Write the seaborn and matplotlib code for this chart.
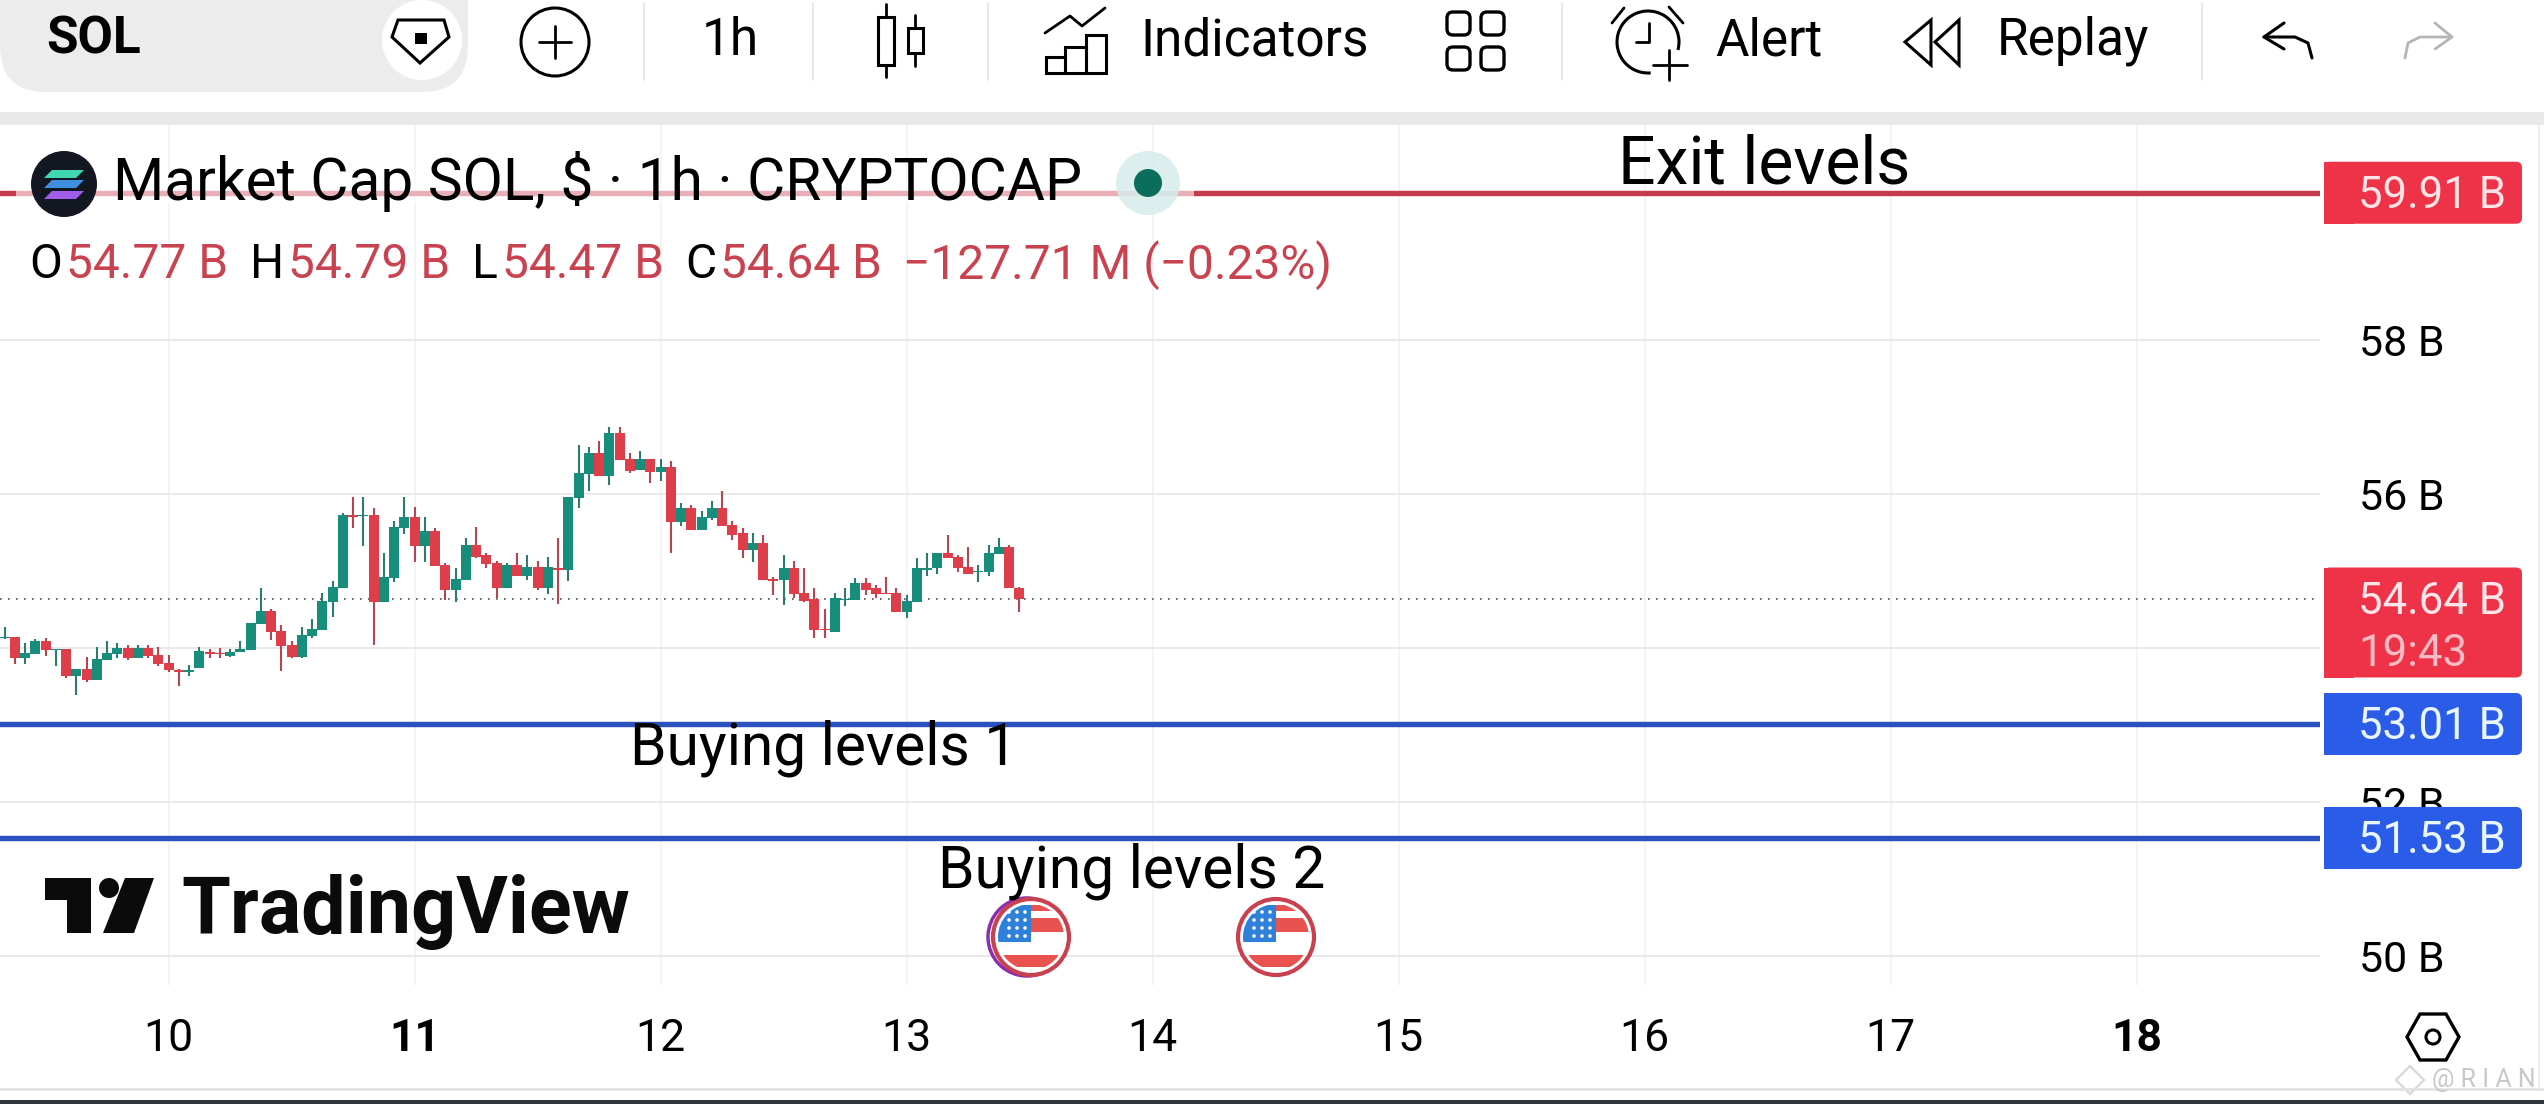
import numpy as np
import pandas as pd
import matplotlib.pyplot as plt
from matplotlib.patches import Arc, Circle, FancyBboxPatch, Polygon, Rectangle
import seaborn as sns

# Candles, one per hour, hour 0 is the start of day 10
HOURS = list(range(-16, 84))
OPEN = [54.13, 54.14, 53.87, 53.92, 54.09, 53.97, 53.99, 53.63, 53.72, 53.58,
        53.84, 53.92, 54.00, 53.87, 54.00, 53.90, 53.80, 53.71, 53.69, 53.74,
        53.95, 53.93, 53.89, 53.95, 53.97, 54.31, 54.48, 54.22, 54.03, 53.88,
        54.15, 54.23, 54.59, 54.77, 55.72, 55.71, 55.73, 54.59, 54.90, 55.55,
        55.70, 55.32, 55.52, 55.08, 54.75, 54.88, 55.34, 55.21, 55.10, 54.77,
        55.07, 54.93, 55.05, 54.77, 55.04, 55.01, 55.94, 56.26, 56.53, 56.23,
        56.79, 56.45, 56.31, 56.45, 56.28, 56.35, 55.63, 55.81, 55.53, 55.68,
        55.81, 55.60, 55.49, 55.27, 55.36, 54.89, 54.88, 55.03, 54.71, 54.64,
        54.24, 54.20, 54.62, 54.62, 54.84, 54.77, 54.71, 54.71, 54.46, 54.59,
        55.01, 55.03, 55.23, 55.18, 55.05, 54.98, 54.98, 55.22, 55.31, 54.77]
HIGH = [54.27, 54.14, 54.06, 54.12, 54.13, 53.98, 53.99, 53.72, 53.88, 54.01,
        54.09, 54.06, 54.04, 54.04, 54.04, 54.01, 53.91, 53.73, 53.78, 54.01,
        53.99, 54.00, 53.99, 54.09, 54.32, 54.77, 54.51, 54.30, 54.09, 54.27,
        54.38, 54.71, 54.87, 55.75, 55.96, 55.96, 55.81, 55.23, 55.65, 55.96,
        55.83, 55.70, 55.55, 55.10, 55.03, 55.42, 55.57, 55.23, 55.13, 55.10,
        55.23, 55.21, 55.13, 55.18, 55.42, 55.96, 56.64, 56.61, 56.69, 56.87,
        56.87, 56.53, 56.56, 56.45, 56.45, 56.43, 55.88, 55.86, 55.78, 55.91,
        56.04, 55.65, 55.55, 55.49, 55.47, 54.92, 55.21, 55.13, 55.03, 54.77,
        54.51, 54.71, 54.77, 54.90, 54.90, 54.82, 54.92, 54.77, 54.69, 55.16,
        55.23, 55.23, 55.47, 55.21, 55.31, 55.08, 55.34, 55.42, 55.34, 54.79]
LOW = [54.12, 53.79, 53.79, 53.92, 53.89, 53.76, 53.61, 53.39, 53.55, 53.58,
       53.84, 53.87, 53.84, 53.87, 53.87, 53.76, 53.68, 53.50, 53.63, 53.74,
       53.87, 53.87, 53.88, 53.95, 53.97, 54.31, 54.10, 53.70, 53.87, 53.87,
       54.13, 54.23, 54.40, 54.77, 55.55, 55.32, 54.04, 54.59, 54.85, 55.48,
       55.11, 55.11, 55.06, 54.62, 54.59, 54.88, 55.16, 55.03, 54.65, 54.77,
       54.93, 54.88, 54.75, 54.70, 54.57, 54.87, 55.81, 56.04, 56.23, 56.12,
       56.44, 56.27, 56.31, 56.14, 56.17, 55.23, 55.58, 55.53, 55.53, 55.66,
       55.58, 55.40, 55.16, 55.11, 54.88, 54.69, 54.56, 54.65, 54.59, 54.13,
       54.13, 54.20, 54.54, 54.62, 54.69, 54.65, 54.70, 54.46, 54.39, 54.59,
       54.93, 54.96, 55.17, 54.98, 54.96, 54.85, 54.93, 55.22, 54.77, 54.47]
CLOSE = [54.14, 53.87, 53.93, 54.09, 53.97, 53.98, 53.63, 53.72, 53.58, 53.86,
         53.93, 54.00, 53.87, 54.00, 53.89, 53.79, 53.71, 53.69, 53.71, 53.96,
         53.92, 53.92, 53.95, 53.98, 54.32, 54.48, 54.20, 54.02, 53.88, 54.17,
         54.24, 54.61, 54.79, 55.73, 55.70, 55.73, 54.59, 54.92, 55.57, 55.70,
         55.32, 55.52, 55.06, 54.75, 54.89, 55.34, 55.18, 55.09, 54.77, 55.08,
         54.93, 55.05, 54.77, 55.05, 55.01, 55.96, 56.27, 56.53, 56.23, 56.79,
         56.44, 56.30, 56.45, 56.28, 56.35, 55.63, 55.81, 55.53, 55.70, 55.81,
         55.58, 55.47, 55.27, 55.36, 54.88, 54.87, 55.03, 54.70, 54.61, 54.23,
         54.23, 54.65, 54.64, 54.84, 54.75, 54.70, 54.70, 54.46, 54.61, 55.03,
         55.04, 55.23, 55.17, 55.03, 54.96, 55.00, 55.23, 55.31, 54.77, 54.64]

DAY_HOURS = [0, 24, 48, 72, 96, 120, 144, 168, 192]
DAY_LABELS = ['10', '11', '12', '13', '14', '15', '16', '17', '18']
BOLD_DAYS = ['11', '18']
PRICE_TICKS = [50, 52, 54, 56, 58]
# the 54 B label sits behind the last price tag in the screenshot
PRICE_LABELS = ['50 B', '52 B', '', '56 B', '58 B']
EXIT_LEVEL = 59.91
BUY_LEVELS = [53.01, 51.53]
LAST_PRICE = 54.64

W, H = 2544, 1104
RED = '#ee3247'
BLUE = '#2a5ce8'
TEXT_RED = '#c8424f'

sns.set_theme(style='white')
plt.rcParams['font.family'] = ['Roboto', 'DejaVu Sans']

candles = pd.DataFrame({'hour': HOURS, 'open': OPEN, 'high': HIGH, 'low': LOW, 'close': CLOSE})
candles['side'] = np.where(candles['close'] >= candles['open'], 'up', 'down')
wicks = candles.melt(id_vars=['hour', 'side'], value_vars=['high', 'low'], value_name='price')
bodies = candles.melt(id_vars=['hour', 'side'], value_vars=['open', 'close'], value_name='price')

fig = plt.figure(figsize=(W / 100, H / 100), dpi=100, facecolor='white')
ax = fig.add_axes([0, 1 - 985 / H, 2320 / W, 860 / H])

# price pane
ax.xaxis.grid(True, color='#f1f1f1', lw=1.1)
ax.yaxis.grid(True, color='#e9e9e9', lw=1.4)
ax.set_axisbelow(True)
sns.lineplot(data=wicks, x='hour', y='price', hue='side', units='hour', estimator=None, sort=False,
             palette={'up': '#2c7a70', 'down': '#b5454f'}, linewidth=1.5, legend=False,
             solid_capstyle='butt', ax=ax)
sns.lineplot(data=bodies, x='hour', y='price', hue='side', units='hour', estimator=None, sort=False,
             palette={'up': '#178d7b', 'down': '#de3e4a'}, linewidth=7.2, legend=False,
             solid_capstyle='butt', ax=ax)

ax.axhline(LAST_PRICE, color='#555555', lw=1.2, ls=(0, (1, 3.8)), zorder=1)
ax.axhline(EXIT_LEVEL, color='#c63a4b', lw=3.9, zorder=3)
for level in BUY_LEVELS:
    ax.axhline(level, color='#2a52be', lw=3.9, zorder=3)

ax.set_xlim(-16.46, 209.9)
ax.set_ylim(49.62, 60.79)
ax.set_xlabel('')
ax.set_ylabel('')
ax.set_xticks(DAY_HOURS, DAY_LABELS)
ax.set_yticks(PRICE_TICKS, PRICE_LABELS)
ax.yaxis.tick_right()
ax.tick_params(axis='x', length=0, pad=24, labelsize=32, colors='black')
ax.tick_params(axis='y', length=0, pad=28, labelsize=31, colors='black')
for tick in ax.get_xticklabels():
    if tick.get_text() in BOLD_DAYS:
        tick.set_fontweight('bold')
sns.despine(ax=ax, left=True, right=True, top=True, bottom=True)

# everything around the chart, in pixels of the picture
ui = fig.add_axes([0, 0, 1, 1], facecolor='none', zorder=5)
ui.set_xlim(0, W)
ui.set_ylim(H, 0)
ui.axis('off')


def label(x, y, s, size, color='black', weight='normal', ha='left'):
    ui.text(x, y + 3, s, fontsize=size, color=color, fontweight=weight, ha=ha, va='center')


def stroke(points, color='black', lw=2.0):
    xs, ys = zip(*points)
    ui.plot(xs, ys, color=color, lw=lw, solid_capstyle='round', solid_joinstyle='round')


def price_px(value):
    return H - ax.transData.transform((0, value))[1]


def price_box(value, color, top, bottom, text, text_color):
    y = price_px(value)
    ui.add_patch(FancyBboxPatch((2330, y - top + 6), 186, top + bottom - 12, boxstyle='round,pad=6',
                                fc=color, ec='none'))
    ui.add_patch(Rectangle((2324, y - top), 30, top + bottom, fc=color, ec='none'))
    label(2358, y, text, 31.5, text_color)


# toolbar
ui.add_patch(Rectangle((0, 112), W, 13, fc='#e9e9e9', ec='none'))
ui.add_patch(FancyBboxPatch((0, -50), 468, 142, boxstyle='round,pad=0,rounding_size=46',
                            fc='#ececec', ec='none'))
ui.add_patch(Circle((422, 40), 40, fc='white', ec='none'))
label(46, 37, 'SOL', 37, weight='bold')
ui.add_patch(Polygon([(398, 20), (444, 20), (449, 37), (420, 63), (392, 37)], fill=False, ec='black', lw=2.2))
ui.add_patch(Rectangle((415, 33), 12, 11, fc='black', ec='none'))
ui.add_patch(Circle((555, 42), 34, fill=False, ec='black', lw=2.2))
stroke([(555, 26), (555, 58)])
stroke([(539, 42), (571, 42)])
for sep in [644, 813, 988, 1562, 2202]:
    stroke([(sep, 3), (sep, 80)], '#e6e6e6', 1.3)
label(702, 38, '1h', 37)
ui.add_patch(Rectangle((878, 17), 16, 48, fill=False, ec='black', lw=2.2))
stroke([(886, 4), (886, 17)])
stroke([(886, 65), (886, 77)])
ui.add_patch(Rectangle((908, 28), 15, 25, fill=False, ec='black', lw=2.2))
stroke([(915, 15), (915, 28)])
stroke([(915, 53), (915, 66)])
stroke([(1045, 33), (1070, 16), (1082, 26), (1105, 8)])
ui.add_patch(Rectangle((1046, 57), 19, 16, fill=False, ec='black', lw=2.2))
ui.add_patch(Rectangle((1065, 47), 21, 26, fill=False, ec='black', lw=2.2))
ui.add_patch(Rectangle((1086, 35), 20, 38, fill=False, ec='black', lw=2.2))
label(1140, 38, 'Indicators', 37)
for gx in [1447, 1481]:
    for gy in [12, 47]:
        ui.add_patch(FancyBboxPatch((gx, gy), 23, 23, boxstyle='round,pad=0,rounding_size=6',
                                    fill=False, ec='black', lw=2.4))
ui.add_patch(Arc((1648, 42), 62, 62, theta1=85, theta2=375, ec='black', lw=2.2))
stroke([(1624, 8), (1612, 23)])
stroke([(1669, 7), (1683, 23)])
stroke([(1649, 23), (1649, 42), (1636, 42)])
stroke([(1669, 50), (1669, 80)])
stroke([(1653, 65), (1687, 65)])
label(1715, 38, 'Alert', 37)
ui.add_patch(Polygon([(1905, 42), (1931, 20), (1931, 65)], fill=False, ec='black', lw=2.2))
ui.add_patch(Polygon([(1935, 42), (1959, 20), (1959, 65)], fill=False, ec='black', lw=2.2))
label(1997, 38, 'Replay', 37)
stroke([(2284, 23), (2264, 37), (2284, 49)], lw=2.2)
stroke([(2264, 37), (2295, 37), (2308, 43), (2312, 58)], lw=2.2)
stroke([(2435, 23), (2452, 37), (2435, 49)], '#b5b5b5', 2.0)
stroke([(2452, 37), (2420, 37), (2408, 43), (2405, 58)], '#b5b5b5', 2.0)

# legend block over the exit line
ui.add_patch(Rectangle((16, 180), 1178, 24, fc='white', alpha=0.6, ec='none'))
ui.add_patch(Circle((64, 184), 33, fc='#131722', ec='none'))
for top, color in [(170, '#3fd8b0'), (180, '#3f8fe0'), (191, '#a05ee8')]:
    ui.add_patch(Polygon([(52, top), (84, top), (76, top + 8), (44, top + 8)], fc=color, ec='none'))
label(113, 179, 'Market Cap SOL, $ · 1h · CRYPTOCAP', 42.2)
ui.add_patch(Circle((1148, 183), 32, fc='#d6ecea', alpha=0.85, ec='none'))
ui.add_patch(Circle((1148, 183), 14, fc='#0b6e5a', ec='none'))
label(29, 262, 'O', 34.5)
label(66, 262, '54.77 B', 34.5, TEXT_RED)
label(250, 262, 'H', 34.5)
label(288, 262, '54.79 B', 34.5, TEXT_RED)
label(472, 262, 'L', 34.5)
label(502, 262, '54.47 B', 34.5, TEXT_RED)
label(685, 262, 'C', 34.5)
label(720, 262, '54.64 B', 34.5, TEXT_RED)
label(903, 262, '−127.71 M (−0.23%)', 34.5, TEXT_RED)

# hand written notes on the screenshot
label(1618, 162, 'Exit levels', 47.5)
label(630, 745, 'Buying levels 1', 42.2)
label(938, 868, 'Buying levels 2', 42.2)

# price scale tags
price_box(EXIT_LEVEL, RED, 31, 31, '59.91 B', '#fbe3e6')
price_box(LAST_PRICE, RED, 31, 79, '54.64 B', '#fde6ea')
label(2358, 651, '19:43', 31.5, '#f9bcc5')
price_box(BUY_LEVELS[0], BLUE, 31, 31, '53.01 B', '#eaf6ff')
price_box(BUY_LEVELS[1], BLUE, 31, 31, '51.53 B', '#eaf6ff')

# TradingView mark
ui.add_patch(Polygon([(45, 878), (91, 878), (91, 933), (67, 933), (67, 900), (45, 900)], fc='#0b0b0b', ec='none'))
ui.add_patch(Circle((109, 888), 10, fc='#0b0b0b', ec='none'))
ui.add_patch(Polygon([(125, 878), (154, 878), (134, 933), (103, 933)], fc='#0b0b0b', ec='none'))
ui.text(181, 933, 'TradingView', fontsize=57, fontweight='bold', color='#0b0b0b', ha='left', va='baseline')

# event flags
for cx, shadow in [(1031, True), (1276, False)]:
    if shadow:
        ui.add_patch(Circle((cx - 4, 937), 39, fc='none', ec='#8a2fb0', lw=2.5))
    ring = Circle((cx, 937), 38, fc='white', ec='#c9404f', lw=3)
    ui.add_patch(ring)
    clip = Circle((cx, 937), 33, transform=ui.transData)
    for patch in [Rectangle((cx - 33, 905), 33, 37, fc='#2f80d8', ec='none'),
                  Rectangle((cx, 918), 33, 14, fc='#e8534f', ec='none'),
                  Rectangle((cx, 905), 33, 6, fc='#e8534f', ec='none'),
                  Rectangle((cx - 33, 955), 66, 12, fc='#e8534f', ec='none')]:
        ui.add_patch(patch)
        patch.set_clip_path(clip)
    for dx in [-22, -14, -6]:
        for dy in [912, 920, 928, 936]:
            ui.add_patch(Circle((cx + dx, dy), 1.8, fc='white', ec='none'))

# settings hexagon, frame and watermark
ui.add_patch(Polygon([(2407, 1037), (2420, 1014), (2446, 1014), (2459, 1037), (2446, 1060), (2420, 1060)],
                     fill=False, ec='black', lw=2.4))
ui.add_patch(Circle((2433, 1037), 7, fill=False, ec='black', lw=2.2))
stroke([(0, 1089), (W, 1089)], '#e2e2e2', 2.0)
stroke([(2539, 125), (2539, 1089)], '#ececec', 1.5)
ui.add_patch(Rectangle((0, 1100), W, 4, fc='#30363a', ec='none'))
ui.add_patch(Polygon([(2410, 1066), (2424, 1080), (2410, 1094), (2396, 1080)], fill=False, ec='#d6d6d6', lw=1.5))
label(2432, 1077, '@ R I A N', 18, '#c8c8c8')

fig.savefig('out.png', dpi=100)
